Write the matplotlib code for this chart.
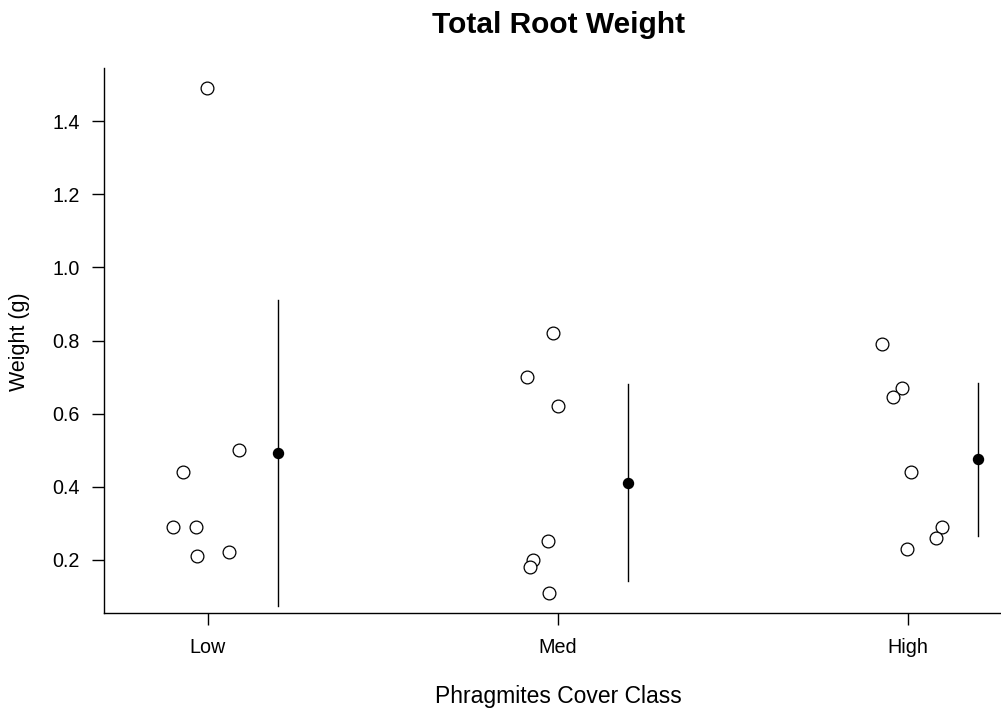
import matplotlib
matplotlib.use("Agg")
import matplotlib.pyplot as plt

plt.rcParams['font.family'] = ['Liberation Sans', 'DejaVu Sans']

categories = ["Low", "Med", "High"]
low_values = [1.49, 0.29, 0.29, 0.21, 0.22, 0.50, 0.44]
low_jitter = [-0.003, -0.101, -0.034, -0.031, 0.061, 0.089, -0.072]
med_values = [0.82, 0.70, 0.62, 0.25, 0.20, 0.18, 0.11]
med_jitter = [-0.014, -0.088, 0.0, -0.029, -0.070, -0.079, -0.026]
high_values = [0.79, 0.67, 0.645, 0.44, 0.29, 0.26, 0.23]
high_jitter = [-0.074, -0.017, -0.042, 0.008, 0.096, 0.081, -0.003]
means = [0.491, 0.411, 0.475]
ci_half = [0.419, 0.270, 0.209]
y_ticks = [0.2, 0.4, 0.6, 0.8, 1.0, 1.2, 1.4]

W, H = 1001, 713
fig = plt.figure(figsize=(W / 100, H / 100), dpi=100)
ax = fig.add_axes([104 / W, 1 - 612.7 / H, (1012 - 104) / W, (612.7 - 68.3) / H])

groups = [(low_values, low_jitter), (med_values, med_jitter), (high_values, high_jitter)]
for i, (vals, jit) in enumerate(groups):
    xpos = [i + 1 + j for j in jit]
    ax.plot(xpos, vals, linestyle='none', marker='o', markersize=9.2,
            markerfacecolor='white', markeredgecolor='black', markeredgewidth=0.9)

for i, (m, c) in enumerate(zip(means, ci_half)):
    x = i + 1 + 0.2
    ax.plot([x, x], [m - c, m + c], color='black', linewidth=1.0, clip_on=False)
    ax.plot([x], [m], marker='o', markersize=7.2, color='black', linestyle='none')

ax.set_xlim(0.7029, 3.2971)
ax.set_ylim(0.0548, 1.5452)
ax.set_xticks([1, 2, 3])
ax.set_xticklabels(categories)
ax.set_yticks(y_ticks)
ax.set_yticklabels([f"{t:.1f}" for t in y_ticks])

for s in ['top', 'right']:
    ax.spines[s].set_visible(False)
for s in ['left', 'bottom']:
    ax.spines[s].set_linewidth(1.0)

ax.tick_params(axis='both', direction='out', length=8.6, width=1.0, labelsize=14.2, colors='black')
ax.tick_params(axis='y', pad=9)
ax.tick_params(axis='x', pad=9.5)

fig.text(559 / W, 1 - 25 / H, "Total Root Weight", ha='center', va='center',
         fontsize=21.5, fontweight='bold')
fig.text(558 / W, 1 - 696 / H, "Phragmites Cover Class", ha='center', va='center', fontsize=16.5)
fig.text(20 / W, 1 - 342 / H, "Weight (g)", ha='center', va='center', rotation=90, fontsize=15.5)

fig.savefig("out.png", dpi=100)
